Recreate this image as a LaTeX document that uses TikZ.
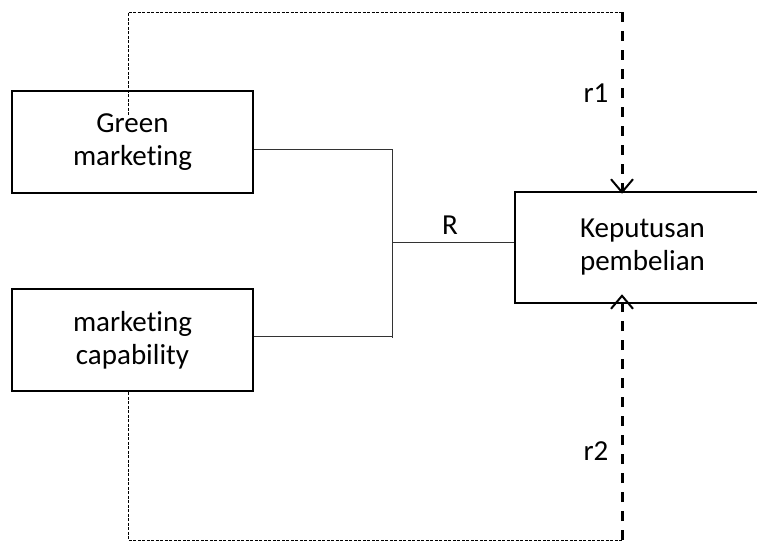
\documentclass[tikz,border=0pt]{standalone}
\usepackage{fontspec}
\setmainfont{Carlito}[Ligatures={NoCommon}]
\usetikzlibrary{arrows.meta}
\begin{document}
\begin{tikzpicture}[x=1pt,y=-1pt,
  box/.style={draw,line width=2.5pt,align=center,inner sep=0pt,font=\fontsize{29}{33}\selectfont},
  conn/.style={line width=1pt,draw=black!80},
  thindash/.style={line width=1pt,dash pattern=on 3pt off 1.5pt},
  thickdash/.style={line width=3pt,dash pattern=on 10pt off 9pt,
    -{Straight Barb[length=13pt,width=22pt,line width=2pt]}},
  lbl/.style={font=\fontsize{29}{33}\selectfont,inner sep=0pt}]
\clip (0,0) rectangle (757,544);
\fill[white] (0,0) rectangle (757,544);
\node[box,minimum width=241pt,minimum height=102pt] (gm) at (132.5,142) {Green\\marketing};
\node[box,minimum width=241pt,minimum height=102pt] (mc) at (132.5,340) {marketing\\capability};
\node[box,minimum width=255pt,minimum height=111pt] (kp) at (642.5,247.5) {Keputusan\\pembelian};
\coordinate (jt) at (392,149);
\coordinate (jb) at (392,338);
\coordinate (jm) at (392,242);
\coordinate (jc) at (392,336);
\draw[conn] (gm.east |- jt) -- (jt) -- (jb);
\draw[conn] (mc.east |- jc) -- (jc);
\draw[conn] (jm) -- (kp.west |- jm);
\node[lbl] (R) at (450,225) {R};
% top feedback path
\coordinate (ts) at (128,115);
\coordinate (tl) at (128,12);
\coordinate (tr) at (622,12);
\draw[thindash] (ts) -- (tl) -- (tr);
\draw[thickdash] (tr) -- ([yshift=-3pt]kp.north -| tr);
\node[lbl] (r1) at (596,93) {r1};
% bottom feedback path
\coordinate (bl) at (128,540);
\coordinate (br) at (622,540);
\draw[thindash] (mc.south -| bl) -- (bl) -- (br);
\draw[thickdash] (br) -- ([yshift=10pt]kp.south -| br);
\node[lbl] (r2) at (596,451) {r2};
\end{tikzpicture}
\end{document}
